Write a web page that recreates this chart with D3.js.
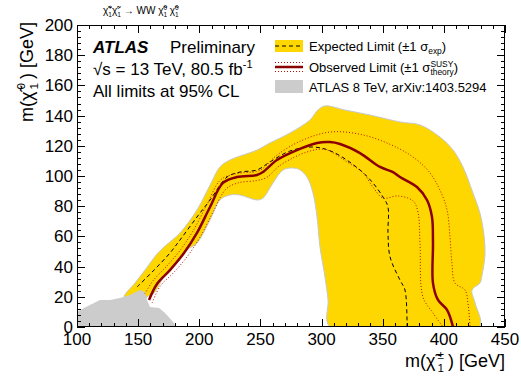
<!DOCTYPE html>
<html><head><meta charset="utf-8">
<script src="https://cdn.jsdelivr.net/npm/d3@7/dist/d3.min.js"></script>
<style>
body{margin:0;background:#fff;}
text{font-family:"Liberation Sans",Arial,Helvetica,sans-serif;fill:#000;}
</style></head><body>
<div id="chart"></div>
<script>
// all values in GeV: [m(chargino), m(neutralino)]
const expBand = [[138.4,19.9],[147.4,29.1],[155.6,37.7],[165.4,48.3],[172,53.6],[184.2,62.3],[198.1,77.5],[208.8,94],[216.9,106],[225.1,110.6],[247.2,117.2],[257.8,121.9],[274.2,128.5],[290.5,137.1],[297,143.7],[302.8,146.4],[319,143.7],[339.5,140.4],[364.1,135.8],[380.5,133.8],[396.8,125.8],[407.5,117.2],[415.6,106],[423.8,88.7],[429.5,75.5],[432.8,60.9],[433.6,47.7],[431.2,34.4],[429.5,29.1],[423,24.5],[425.5,15.9],[429,0],
  [306.9,0],[305.3,17.9],[302.8,33.1],[298.7,53],[296.3,72.8],[293,88.7],[288.1,99.3],[282.4,104],[276.6,105.3],[268.5,104],[260.3,95.4],[252.1,85.4],[247.2,84.1],[233.3,87.4],[225.1,87.4],[216.9,84.1],[208.8,70.9],[198.1,55.6],[190,51],[181.8,42.4],[171.1,33.1],[163,22.5],[157.2,19.9],[150,12],[140,15]];
const expected = [[149.1,26.5],[163,37.7],[176,49],[184.2,57.6],[198.1,72.8],[208.8,84.1],[222.7,99.3],[233.3,102.6],[247.2,104],[257.8,109.3],[274,116.5],[293,119.2],[309.3,115.9],[331.4,104],[342,95.4],[350.2,86.1],[354.3,79.5],[354.3,62.3],[356,46.4],[364.1,31.1],[368.2,24.5],[369.9,0]];
const observed = [[158.9,17.9],[165.4,28.5],[176,37.7],[187.5,49],[198.1,62.3],[208.8,79.5],[219.4,95.4],[230.8,99.3],[247.2,100.7],[252.1,102.6],[263.5,110.6],[279.9,117.2],[296.3,121.9],[306.9,122.5],[315.1,121.2],[331.4,115.2],[347.8,106],[358.4,102.6],[364.1,99.3],[378,92.7],[386.2,84.1],[390.3,72.8],[391.1,55.6],[391.1,29.1],[395.2,17.9],[402.6,11.3],[407.5,0]];
const obsUp = [[155.5,22],[162,30.5],[173,40],[184.5,51],[195.5,64.5],[206.5,81.5],[217.5,97.5],[230,101.5],[247,103],[252,105],[263,113.5],[282.4,123],[306.9,129.1],[333.9,127.2],[362.5,118.5],[378,110.6],[388.7,102],[396.8,90.7],[402.6,77.5],[405,59.6],[406.6,42.4],[409.1,29.1],[417.3,24.5],[419.7,15.9],[421.4,0]];
const obsDown = [[161.5,16],[168,27],[179,36],[190.5,47],[201,60],[211.5,76.5],[222,91.5],[232,95.5],[247,97],[255,99],[266,107],[288.1,115.9],[303,117.5],[320.8,109.3],[333.9,102],[342,92.7],[350.2,85.4],[362.5,86.8],[374.8,83.5],[378.8,76.2],[380.5,55.6],[382.9,19.9],[391.1,9.3],[399.3,0]];
const atlas8 = [[100,0],[100,9.9],[105.7,12.6],[118.8,17.9],[127,17.9],[135.2,19.2],[143.3,21.2],[151.5,24.5],[155.6,23.2],[157.2,17.9],[159.7,13.2],[167.1,12.6],[172,9.3],[179.3,2.6],[181,0]];
const xTicks = [100,150,200,250,300,350,400,450];
const yTicks = [0,20,40,60,80,100,120,140,160,180,200];

const W = 521, H = 384;
const plot = {left: 77, right: 505, top: 25, bottom: 327};

const svg = d3.select('#chart').append('svg').attr('width', W).attr('height', H);

const x = d3.scaleLinear().domain([100, 450]).range([plot.left, plot.right]);
const y = d3.scaleLinear().domain([0, 200]).range([plot.bottom, plot.top]);

svg.append('clipPath').attr('id', 'clip').append('rect')
    .attr('x', plot.left).attr('y', plot.top)
    .attr('width', plot.right - plot.left).attr('height', plot.bottom - plot.top);

const g = svg.append('g').attr('clip-path', 'url(#clip)');

const smooth = d3.line().x(d => x(d[0])).y(d => y(d[1])).curve(d3.curveCatmullRom.alpha(0.5));

// expected +-1 sigma band
g.append('path')
    .attr('d', d3.line().x(d => x(d[0])).y(d => y(d[1])).curve(d3.curveCatmullRomClosed.alpha(0.5))(expBand))
    .style('fill', '#ffd700')
    .style('stroke', '#c8c8c8')
    .style('stroke-width', 1);

// 8 TeV result
g.append('path')
    .attr('d', d3.line().x(d => x(d[0])).y(d => y(d[1])).curve(d3.curveLinearClosed)(atlas8))
    .style('fill', '#cccccc');

g.append('path').attr('d', smooth(expected))
    .style('fill', 'none').style('stroke', '#000').style('stroke-width', 1)
    .style('stroke-dasharray', '4,3');

[obsUp, obsDown].forEach(d => {
    g.append('path').attr('d', smooth(d))
        .style('fill', 'none').style('stroke', '#b81000').style('stroke-width', 1)
        .style('stroke-dasharray', '1,2');
});

g.append('path').attr('d', smooth(observed))
    .style('fill', 'none').style('stroke', '#8b0000').style('stroke-width', 2.5);

// frame + ticks (ROOT style, inside, on all four sides)
const axes = svg.append('g');
const tick = (x1, y1, x2, y2) => axes.append('line')
    .attr('x1', x1).attr('y1', y1).attr('x2', x2).attr('y2', y2)
    .style('stroke', '#000').style('stroke-width', 1);

d3.range(100, 451, 10).forEach(v => {
    const len = v % 50 === 0 ? 8 : 4;
    const px = Math.round(x(v)) + 0.5;
    tick(px, plot.bottom, px, plot.bottom - len);
    tick(px, plot.top, px, plot.top + len);
});
d3.range(0, 201, 4).forEach(v => {
    const len = v % 20 === 0 ? 8 : 4;
    const py = Math.round(y(v)) + 0.5;
    tick(plot.left, py, plot.left + len, py);
    tick(plot.right, py, plot.right - len, py);
});
axes.append('rect')
    .attr('x', plot.left + 0.5).attr('y', plot.top + 0.5)
    .attr('width', plot.right - plot.left - 1).attr('height', plot.bottom - plot.top - 1)
    .style('fill', 'none').style('stroke', '#000').style('stroke-width', 1);

axes.selectAll('.xl').data(xTicks).enter().append('text')
    .attr('x', d => x(d)).attr('y', 345)
    .attr('text-anchor', 'middle').style('font-size', '17px')
    .text(d => d);
axes.selectAll('.yl').data(yTicks).enter().append('text')
    .attr('x', plot.left - 4).attr('y', d => y(d) + 6)
    .attr('text-anchor', 'end').style('font-size', '17px')
    .text(d => d);

// text with stacked super/subscripts
function rich(t, parts, fs, gap = 0) {
    let off = 0, pend = 0;
    const put = (str, size, target) => {
        const s = t.append('tspan').style('font-size', size + 'px').text(str)
            .attr('dy', target - off);
        if (pend) { s.attr('dx', pend); pend = 0; }
        off = target;
        return s;
    };
    parts.forEach(p => {
        if (typeof p === 'string') { put(p, fs, 0); return; }
        let ws = 0;
        pend = gap / 2;
        if (p.sup) ws = put(p.sup, fs * 0.65, -fs * 0.42).node().getComputedTextLength();
        if (p.sub) {
            const s = put(p.sub, fs * 0.65, fs * 0.25);
            if (p.sup) s.attr('dx', -ws);
            const wb = s.node().getComputedTextLength();
            if (ws > wb) pend = ws - wb;
        }
        pend += gap;
    });
    return t;
}

const chi = 'χ\u0303';

rich(svg.append('text').attr('x', 103).attr('y', 14).attr('text-anchor', 'start'), [
    chi, {sup: '+', sub: '1'}, chi, {sup: '-', sub: '1'}, ' \u2192 WW ', chi, {sup: '0', sub: '1'}, ' ', chi, {sup: '0', sub: '1'}
], 10);

rich(svg.append('text').attr('x', plot.right).attr('y', 367).attr('text-anchor', 'end'),
    ['m(', chi, {sup: '±', sub: '1'}, ') [GeV]'], 18, 4);

rich(svg.append('text').attr('transform', 'translate(33,22) rotate(-90)').attr('text-anchor', 'end'),
    ['m(', chi, {sup: '0', sub: '1'}, ') [GeV]'], 18, 4);

// ATLAS label block
const lab = svg.append('g');
lab.append('text').attr('x', 93).attr('y', 53)
    .style('font-size', '17px').style('font-weight', 'bold').style('font-style', 'italic')
    .text('ATLAS');
lab.append('text').attr('x', 170).attr('y', 53).style('font-size', '17px').text('Preliminary');
rich(lab.append('text').attr('x', 93).attr('y', 75),
    ['\u221As = 13 TeV, 80.5 fb', {sup: '-1'}], 17);
lab.append('text').attr('x', 93).attr('y', 97).style('font-size', '17px').text('All limits at 95% CL');

// legend
const leg = svg.append('g');
leg.append('rect').attr('x', 275).attr('y', 40).attr('width', 28).attr('height', 12).style('fill', '#ffd700');
leg.append('line').attr('x1', 275).attr('x2', 303).attr('y1', 46).attr('y2', 46)
    .style('stroke', '#000').style('stroke-dasharray', '4,3');
leg.append('line').attr('x1', 275).attr('x2', 303).attr('y1', 67).attr('y2', 67)
    .style('stroke', '#8b0000').style('stroke-width', 2.5);
[62.5, 71.5].forEach(v => leg.append('line').attr('x1', 275).attr('x2', 303).attr('y1', v).attr('y2', v)
    .style('stroke', '#b81000').style('stroke-dasharray', '1,2'));
leg.append('rect').attr('x', 275).attr('y', 80).attr('width', 28).attr('height', 13).style('fill', '#cccccc');

rich(leg.append('text').attr('x', 309).attr('y', 51), ['Expected Limit (\u00b11 \u03c3', {sub: 'exp'}, ')'], 13);
rich(leg.append('text').attr('x', 309).attr('y', 72), ['Observed Limit (\u00b11 \u03c3', {sup: 'SUSY', sub: 'theory'}, ')'], 13);
leg.append('text').attr('x', 309).attr('y', 92).style('font-size', '13px').text('ATLAS 8 TeV, arXiv:1403.5294');
</script>
</body></html>
